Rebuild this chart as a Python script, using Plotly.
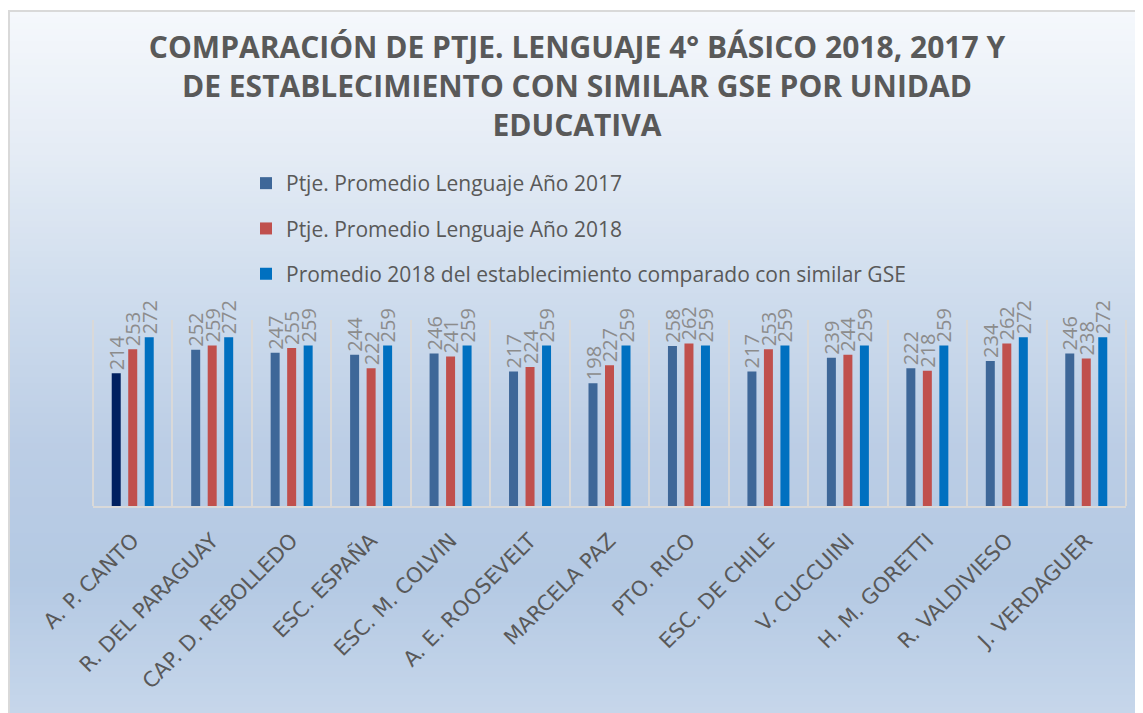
import plotly.graph_objects as go

categories = ["A. P. CANTO", "R. DEL PARAGUAY", "CAP. D. REBOLLEDO", "ESC. ESPAÑA",
              "ESC. M. COLVIN", "A. E. ROOSEVELT", "MARCELA PAZ", "PTO. RICO",
              "ESC. DE CHILE", "V. CUCCUINI", "H. M. GORETTI", "R. VALDIVIESO",
              "J. VERDAGUER"]
ptje_2017 = [214, 252, 247, 244, 246, 217, 198, 258, 217, 239, 222, 234, 246]
ptje_2018 = [253, 259, 255, 222, 241, 224, 227, 262, 253, 244, 218, 262, 238]
similar_gse_2018 = [272, 272, 259, 259, 259, 259, 259, 259, 259, 259, 259, 272, 272]

series_names = ["Ptje. Promedio Lenguaje Año 2017",
                "Ptje. Promedio Lenguaje Año 2018",
                "Promedio 2018 del establecimiento comparado con similar GSE"]

title_text = ("COMPARACIÓN DE PTJE. LENGUAJE 4° BÁSICO 2018, 2017 Y<br>"
              "DE ESTABLECIMIENTO CON SIMILAR GSE POR UNIDAD<br>EDUCATIVA")

W, H = 1143, 713
OFF = 8  # page offset of the figure in the screenshot
# plot area in screenshot pixels
PL, PR, PT, PB = 93, 1126, 320, 506
ML, MR, MT, MB = PL - OFF, W - (PR - OFF), PT - OFF, H - (PB - OFF)
PW, PH = W - ML - MR, H - MT - MB

def sx(px):  # screenshot x -> paper
    return (px - OFF - ML) / PW

def sy(py):  # screenshot y -> paper
    return (H - MB - (py - OFF)) / PH

# background gradient stops (screenshot y, rgb)
stops = [(11, (245, 248, 252)), (150, (229, 236, 245)), (300, (206, 220, 237)),
         (450, (187, 205, 229)), (580, (180, 201, 227)), (721, (199, 215, 235))]

def col_at(y):
    for (y0, c0), (y1, c1) in zip(stops[:-1], stops[1:]):
        if y0 <= y <= y1:
            t = (y - y0) / (y1 - y0)
            return "rgb(%d,%d,%d)" % tuple(round(a + (b - a) * t) for a, b in zip(c0, c1))
    return "rgb(%d,%d,%d)" % stops[-1][1]

shapes = []
step = 6
y = 11
while y < H + OFF:
    y2 = min(y + step, H + OFF)
    shapes.append(dict(type="rect", xref="paper", yref="paper", layer="below",
                       x0=sx(OFF), x1=sx(W + OFF + 2),
                       y0=sy(y2 + 0.5), y1=sy(y),
                       fillcolor=col_at((y + y2) / 2), line=dict(width=0)))
    y = y2
# chart border (top + left)
shapes.append(dict(type="line", xref="paper", yref="paper", layer="below",
                   x0=sx(OFF), x1=sx(W + OFF + 2), y0=sy(11), y1=sy(11),
                   line=dict(color="#d9d9d9", width=2)))
shapes.append(dict(type="line", xref="paper", yref="paper", layer="below",
                   x0=sx(OFF + 1), x1=sx(OFF + 1), y0=sy(11), y1=sy(H + OFF + 2),
                   line=dict(color="#d9d9d9", width=2)))
# plot-area edge lines
for xe in (0, 1):
    shapes.append(dict(type="line", xref="paper", yref="paper", layer="below",
                       x0=xe, x1=xe, y0=0, y1=1,
                       line=dict(color="#d9d9d9", width=2)))

series_colors = ["#3E6798", "#C0504D", "#0070C0"]
highlight_color = "#002060"  # first school's 2017 bar
values = [ptje_2017, ptje_2018, similar_gse_2018]

fig = go.Figure()
for i, (name, vals, colr) in enumerate(zip(series_names, values, series_colors)):
    mcol = colr
    if i == 0:
        mcol = [highlight_color] + [colr] * (len(categories) - 1)
    fig.add_trace(go.Bar(
        x=categories, y=vals, name=name, legendgroup="g%d" % i,
        offsetgroup="o%d" % i, showlegend=(i != 0),
        marker=dict(color=mcol, line=dict(width=0)),
        texttemplate="%{y}", textposition="outside", textangle=-90,
        textfont=dict(family="Open Sans", size=20, color="#8c8c8c"),
        cliponaxis=False, constraintext="none",
    ))
    if i == 0:
        # legend entry in the series colour (no visible bar)
        fig.add_trace(go.Bar(
            x=[categories[0]], y=[None], name=name, legendgroup="g0",
            offsetgroup="o0", showlegend=True, hoverinfo="skip",
            marker=dict(color=colr, line=dict(width=0)),
        ))

fig.update_layout(
    width=W, height=H,
    margin=dict(l=ML, r=MR, t=MT, b=MB, pad=0),
    paper_bgcolor="white", plot_bgcolor="rgba(0,0,0,0)",
    barmode="group", bargap=0.377, bargroupgap=0.455,
    shapes=shapes,
    title=dict(text=title_text, x=(577 - OFF) / W, xanchor="center",
               y=1 - 50 / H, yanchor="top", yref="container",
               font=dict(family="Open Sans", size=30, color="#595959", weight="bold")),
    legend=dict(x=sx(246), xanchor="left", y=sy(163), yanchor="top",
                orientation="v", bgcolor="rgba(0,0,0,0)", tracegroupgap=15,
                font=dict(family="Open Sans", size=21, color="#595959"),
                traceorder="grouped"),
    showlegend=True,
    xaxis=dict(tickson="boundaries", showgrid=True, gridcolor="#d9d9d9", gridwidth=2,
               showline=True, linecolor="#d9d9d9", linewidth=2, ticks="",
               tickangle=-45, ticklabelstandoff=12,
               tickfont=dict(family="DejaVu Sans", size=21, color="#595959")),
    yaxis=dict(range=[0, 300], visible=False, showgrid=False, zeroline=False),
)

fig.write_html("out.html")
